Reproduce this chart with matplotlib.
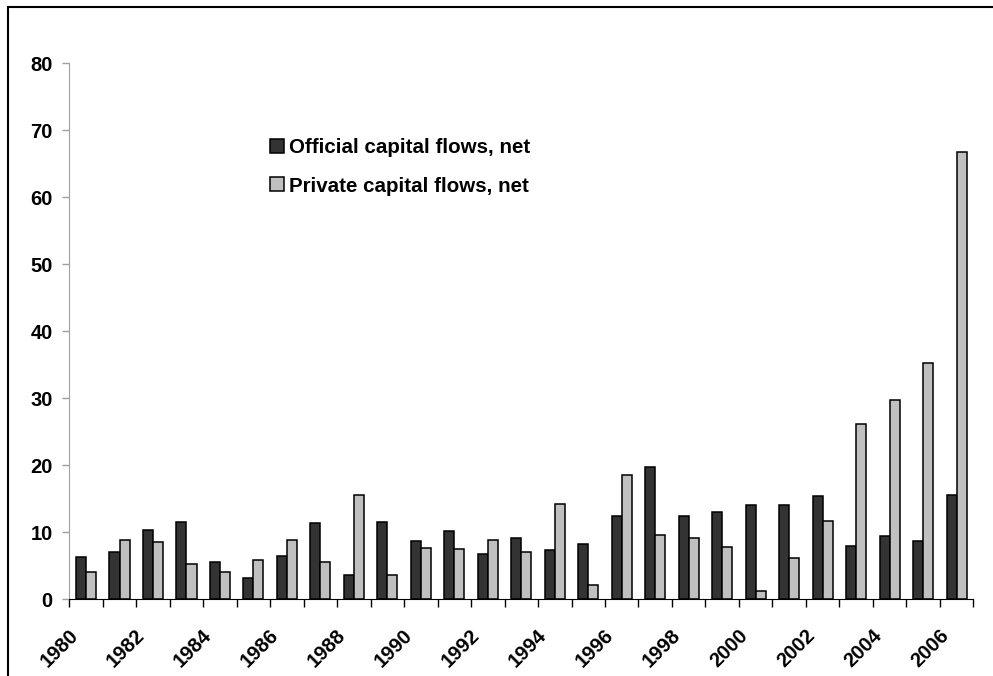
import matplotlib
matplotlib.use("Agg")
import matplotlib.pyplot as plt
from matplotlib.lines import Line2D
from matplotlib.transforms import ScaledTranslation
import numpy as np

plt.rcParams["font.family"] = ["Liberation Sans", "DejaVu Sans"]
plt.rcParams["font.weight"] = "bold"

years = list(range(1980, 2007))
official = [6.3, 7.0, 10.3, 11.6, 5.5, 3.2, 6.5, 11.4, 3.6, 11.5,
            8.7, 10.2, 6.8, 9.1, 7.4, 8.2, 12.4, 19.8, 12.4, 13.1,
            14.1, 14.1, 15.4, 7.9, 9.4, 8.7, 15.5]
private = [4.1, 8.8, 8.6, 5.3, 4.1, 5.8, 8.8, 5.5, 15.6, 3.7,
           7.6, 7.5, 8.9, 7.1, 14.2, 2.1, 18.6, 9.6, 9.1, 7.8,
           1.2, 6.2, 11.7, 26.1, 29.8, 35.3, 66.8]
series_labels = ["Official capital flows, net", "Private capital flows, net"]
y_ticks = [0, 10, 20, 30, 40, 50, 60, 70, 80]

fig = plt.figure(figsize=(9.93, 6.76), dpi=100)
ax = fig.add_axes([69.3 / 993, 76.7 / 676, (973.3 - 69.3) / 993, (599.3 - 63.3) / 676])

centers = np.arange(len(years)) + 0.5
w = 0.3
ax.bar(centers - w / 2, official, width=w, color="#333333", edgecolor="black",
       linewidth=1.1, label=series_labels[0])
ax.bar(centers + w / 2, private, width=w, color="#c0c0c0", edgecolor="black",
       linewidth=1.1, label=series_labels[1])

ax.set_xlim(0, len(years))
ax.set_ylim(0, 80)
ax.set_yticks(y_ticks)
ax.tick_params(axis="y", colors="#a0a0a0", length=5, width=1, pad=7,
               labelsize=14.5, labelcolor="black")

# category boundaries carry the tick marks; every second year is labelled
ax.set_xticks(np.arange(len(years) + 1), minor=True)
ax.set_xticks(centers[::2])
ax.set_xticklabels([str(y) for y in years[::2]])
ax.tick_params(axis="x", which="minor", length=6, width=1, color="black")
ax.tick_params(axis="x", which="major", length=0, pad=24, labelsize=14.5)
for lbl in ax.get_xticklabels():
    lbl.set_rotation(45)
    lbl.set_ha("right")
    lbl.set_va("center")
    lbl.set_rotation_mode("anchor")
    lbl.set_transform(lbl.get_transform() + ScaledTranslation(-11 / 100, 0, fig.dpi_scale_trans))

for s in ("top", "right"):
    ax.spines[s].set_visible(False)
ax.spines["left"].set_color("#a0a0a0")
ax.spines["bottom"].set_color("black")

ax.legend(loc="upper left", bbox_to_anchor=(270 / 993, 1 - 138 / 676),
          bbox_transform=fig.transFigure, frameon=False, fontsize=14.8,
          handlelength=0.68, handleheight=0.68, handletextpad=0.25,
          labelspacing=0.95, borderpad=0, borderaxespad=0)

# outer frame around the figure
fig.add_artist(Line2D([8 / 993, 8 / 993], [0, 1 - 7 / 676], transform=fig.transFigure,
                      color="black", linewidth=1.5))
fig.add_artist(Line2D([8 / 993, 1], [1 - 7 / 676, 1 - 7 / 676], transform=fig.transFigure,
                      color="black", linewidth=1.5))

fig.savefig("out.png", dpi=100)
